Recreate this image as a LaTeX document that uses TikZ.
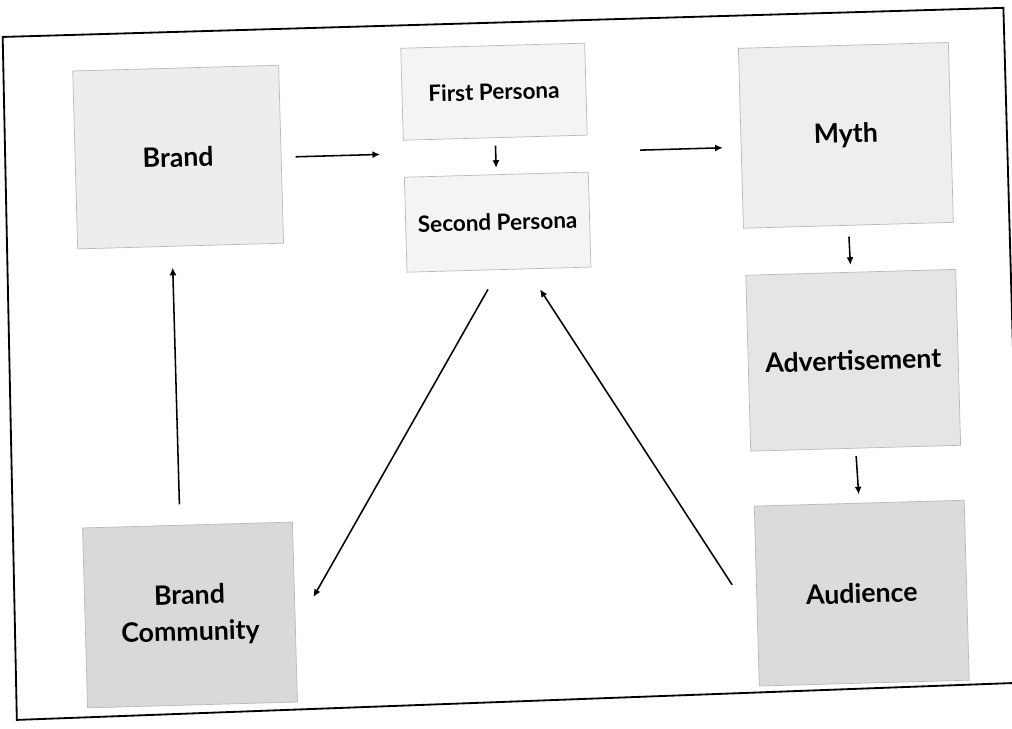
\documentclass[tikz,border=0pt]{standalone}
\usepackage{fontspec}
\setmainfont{Lato}
\usetikzlibrary{calc,arrows.meta}
\begin{document}
\begin{tikzpicture}[
  % one unit = one pixel, axes tilted by 1.6 degrees
  x={(0.02499cm,0.000698cm)}, y={(0.000698cm,-0.02499cm)},
  box/.style={draw=gray!55, line width=0.5pt, rotate=1.6, inner sep=0pt,
    align=center, font=\bfseries\fontsize{19}{26}\selectfont},
  big/.style={box, minimum width=5.25cm, minimum height=4.5cm},
  small/.style={box, minimum width=4.6cm, minimum height=2.3cm,
    font=\bfseries\fontsize{16}{20}\selectfont},
  arr/.style={line width=1.1pt, -{Latex[length=5.5pt,width=5pt]}},
]
\useasboundingbox (0.249cm,-17.843cm) rectangle (25.549cm,0.357cm);

% outer frame
\draw[line width=1.3pt] (12,23) -- (1013,22) -- (1013,697) -- (7,706) -- cycle;

% boxes
\node[big, fill=gray!14, minimum width=5.15cm, minimum height=4.45cm] (brand) at (184,148) {Brand};
\node[small, fill=gray!9] (first) at (501.5,91.5) {First Persona};
\node[small, fill=gray!9, minimum height=2.375cm] (second) at (501.5,222) {Second Persona};
\node[big, fill=gray!13] (myth) at (852,145) {Myth};
\node[big, fill=gray!20, minimum height=4.4cm] (adv) at (853,370) {Advertisement};
\node[big, fill=gray!28] (aud) at (855,603) {Audience};
\node[big, fill=gray!30] (bc) at (183,606) {Brand\\Community};

\coordinate (pgap) at ($(first.south)!0.5!(second.north)$);

% connectors
\draw[arr] ($(brand.east)+(14,3)$) -- ($(pgap)+(-115.5,-5)$);
\draw[arr, shorten <=0.19cm, shorten >=0.16cm] (first.south) -- (second.north);
\draw[arr] ($(pgap)+(144.5,-2)$) -- ($(myth.west)+(-18,9)$);
\draw[arr, shorten <=0.275cm, shorten >=0.175cm] (myth.south) -- (adv.north);
\draw[arr, shorten <=0.19cm, shorten >=0.21cm] (adv.south) -- (aud.north);
\draw[arr] ($(aud.west)+(-24,-12)$) -- ($(second.south)+(40.5,20.5)$);
\draw[arr] ($(second.south)+(-11.5,19)$) -- ($(bc.east)+(18.5,-14.5)$);
\draw[arr] ($(bc.north)+(-7.5,-20.5)$) -- ($(brand.south)+(-8.5,21)$);
\end{tikzpicture}
\end{document}
